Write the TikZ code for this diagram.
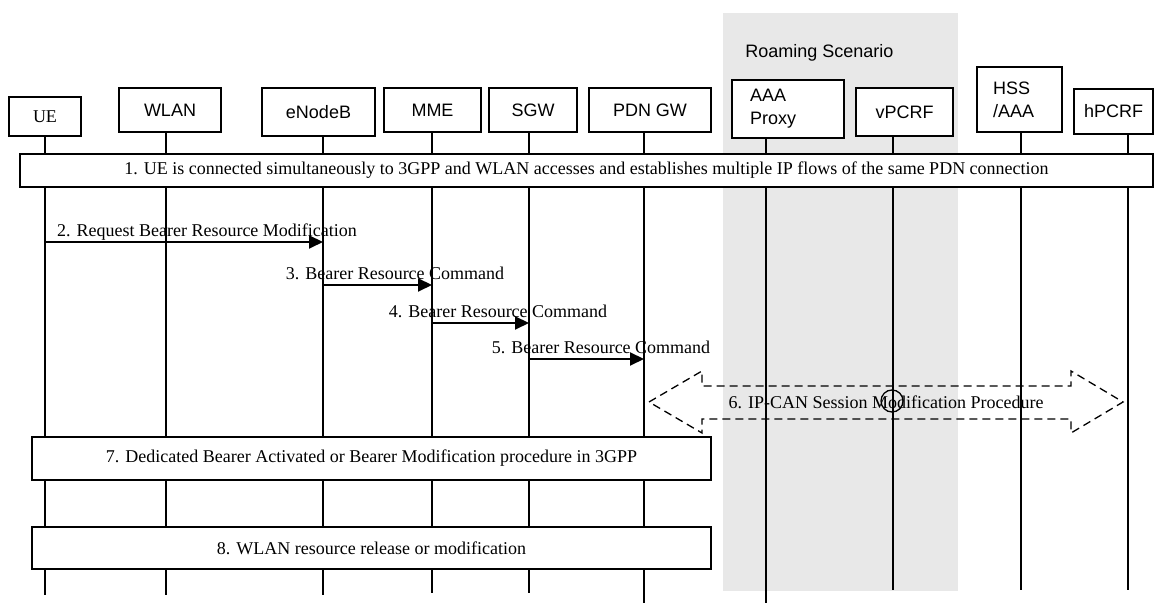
\documentclass[tikz,border=0pt]{standalone}
\usepackage{fontspec}
\setmainfont{Liberation Serif}
\newfontfamily\arialfont{Liberation Sans}
\usetikzlibrary{
  positioning,
  arrows.meta
}
\definecolor{roamgray}{RGB}{232,232,232}

\begin{document}
\begin{tikzpicture}[x=0.5pt,y=-0.5pt,
headnode/.style={rectangle, draw, line width=0.8pt, fill=white, inner sep=0pt, font=\arialfont\fontsize{9}{11.5}\selectfont},
stepbox/.style={rectangle, draw, line width=0.9pt, fill=white, inner sep=0pt, font=\fontsize{9}{11}\selectfont},
msglabel/.style={anchor=base, inner sep=0pt, font=\fontsize{9}{11}\selectfont},
msg/.style={line width=1pt, -{Triangle[length=7pt,width=6.5pt]}},
life/.style={line width=0.65pt},
dashline/.style={line width=0.65pt, dash pattern=on 4pt off 2.5pt},
]
\useasboundingbox (0,0) rectangle (1161,603);

%Roaming area
\fill[roamgray] (723,13) rectangle (958,591);
\node[anchor=west, inner sep=0pt, font=\arialfont\fontsize{9}{11}\selectfont] (roam) at (745,53) {Roaming Scenario};

%Nodes
\node[headnode, minimum width=36pt, minimum height=19.5pt, font=\fontsize{9}{11}\selectfont] (ue) at (45,116.5) {UE};
\node[headnode, minimum width=51pt, minimum height=22pt]   (wlan)  at (170,110)    {WLAN};
\node[headnode, minimum width=56.5pt, minimum height=24pt] (enb)   at (318.5,112)  {eNodeB};
\node[headnode, minimum width=48.5pt, minimum height=22pt] (mme)   at (432.5,110)  {MME};
\node[headnode, minimum width=44pt, minimum height=22pt]   (sgw)   at (533,110)    {SGW};
\node[headnode, minimum width=61pt, minimum height=22pt]   (pgw)   at (650,110)    {PDN GW};
\node[headnode, minimum height=29pt, text width=38pt, inner xsep=9pt, align=left] (aaa) at (788,109) {AAA\\Proxy};
\node[headnode, minimum width=48.5pt, minimum height=24pt] (vpcrf) at (904.5,112)  {vPCRF};
\node[headnode, minimum height=32.5pt, text width=26.5pt, inner xsep=8pt, align=left] (hss) at (1019.5,99.5) {HSS\\/AAA};
\node[headnode, minimum width=39.5pt, minimum height=22.5pt] (hpcrf) at (1113.5,111.5) {hPCRF};

%Lifelines
\foreach \n/\x/\y in {ue/45/595, wlan/166/595, enb/323/595, mme/432/593, sgw/529/593,
                      pgw/644/603, aaa/766/603, vpcrf/893/590, hss/1021/590, hpcrf/1128/590}{
  \coordinate (\n-end) at (\x,\y);
  \draw[life] (\n.south -| \n-end) -- (\n-end);
}

%Steps
\node[stepbox, minimum width=566.5pt, minimum height=16.5pt] (s1) at (586.5,170.5)
  {1. UE is connected simultaneously to 3GPP and WLAN accesses and establishes multiple IP flows of the same PDN connection};
\node[stepbox, minimum width=339.5pt, minimum height=21.5pt] (s7) at (371.5,458.5)
  {7. Dedicated Bearer Activated or Bearer Modification procedure in 3GPP};
\node[stepbox, minimum width=339.5pt, minimum height=21pt] (s8) at (371.5,548)
  {8. WLAN resource release or modification};

%Messages
\draw[msg] (ue-end |- 0,242) -- (enb-end |- 0,242);
\node[msglabel] (m2) at (207,237) {2. Request Bearer Resource Modification};
\draw[msg] (enb-end |- 0,285) -- (mme-end |- 0,285);
\node[msglabel] (m3) at (395,280) {3. Bearer Resource Command};
\draw[msg] (mme-end |- 0,323) -- (sgw-end |- 0,323);
\node[msglabel] (m4) at (498,318) {4. Bearer Resource Command};
\draw[msg] (sgw-end |- 0,359) -- (pgw-end |- 0,359);
\node[msglabel] (m5) at (601,354) {5. Bearer Resource Command};

%IP-CAN session
\draw[dashline] (649,402) -- (702,371) -- (702,386) -- (1071,386) -- (1071,371) -- (1123,402)
  -- (1071,433) -- (1071,419) -- (702,419) -- (702,433) -- cycle;
\node[inner sep=0pt, font=\fontsize{9}{11}\selectfont] (m6) at (886,402) {6. IP-CAN Session Modification Procedure};
\node[circle, draw, line width=0.65pt, minimum size=11pt, inner sep=0pt] (ring) at (892,401) {};
\end{tikzpicture}
\end{document}
